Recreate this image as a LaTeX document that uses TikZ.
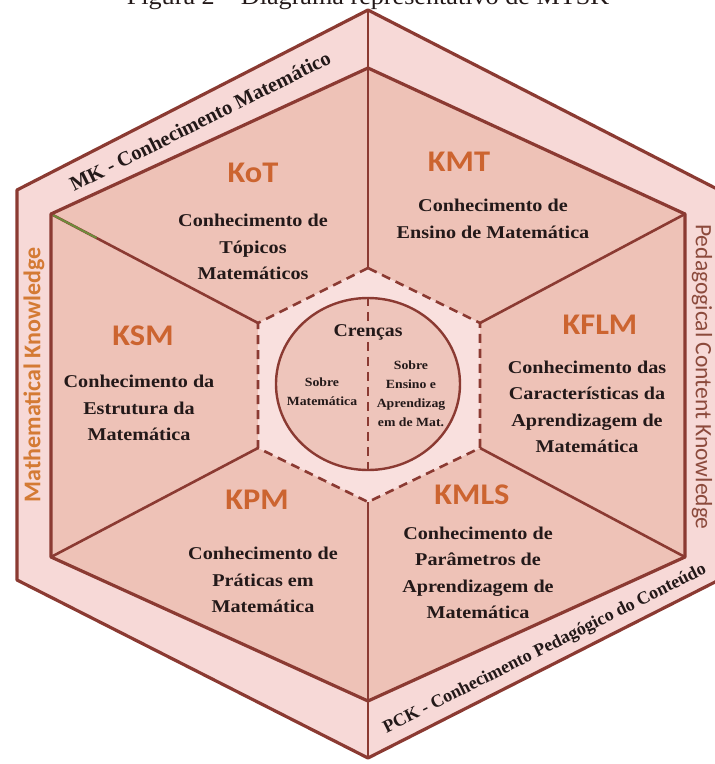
\documentclass[tikz,border=0pt]{standalone}
\usepackage{fontspec}
\setmainfont{Liberation Serif}
\newfontfamily\lblfont{Carlito}
\usetikzlibrary{calc,shapes.geometric}
\definecolor{edge}{RGB}{139,58,50}
\definecolor{sector}{RGB}{238,194,183}
\definecolor{band}{RGB}{247,217,215}
\definecolor{core}{RGB}{249,224,222}
\definecolor{circfill}{RGB}{238,197,187}
\definecolor{lbl}{RGB}{204,100,48}
\definecolor{mkcol}{RGB}{212,122,52}
\definecolor{pckcol}{RGB}{140,74,60}
\definecolor{txt}{RGB}{35,25,25}
\definecolor{artifact}{RGB}{110,140,60}
\begin{document}
\begin{tikzpicture}[x=1pt,y=-1pt,
  edgeline/.style={draw=edge,line width=3.2pt,line join=round},
  divline/.style={draw=edge,line width=2.6pt},
  dashline/.style={draw=edge,line width=2.6pt,dash pattern=on 9pt off 6pt},
  klabel/.style={font=\lblfont\bfseries\fontsize{30}{30}\selectfont,text=lbl,xscale=1.08,inner sep=0pt},
  ktext/.style={font=\bfseries\fontsize{18}{26.5}\selectfont,align=center,xscale=1.12,inner sep=0pt,text=txt},
  smalltext/.style={font=\bfseries\fontsize{12.5}{19}\selectfont,align=center,xscale=1.1,inner sep=0pt,text=txt},
  bandtext/.style={font=\bfseries\fontsize{18}{18}\selectfont,inner sep=0pt,text=txt,rotate=26.6},
]
\useasboundingbox (0,0) rectangle (715,764);
\fill[white] (0,0) rectangle (715,764);
% title (cut off by the page top)
\node[font=\fontsize{24}{24}\selectfont,anchor=base,xscale=1.09,inner sep=0pt,text=txt] (title) at (368,4) {Figura 2 -- Diagrama representativo de MTSK};
% outer hexagon
\coordinate (OT) at (368,10);
\coordinate (OUL) at (17,190);
\coordinate (OLL) at (17,580);
\coordinate (OB) at (368,758);
\coordinate (OLR) at (719,580);
\coordinate (OUR) at (719,190);
% inner hexagon
\coordinate (IT) at (368,68);
\coordinate (IUL) at (51,214);
\coordinate (ILL) at (51,557);
\coordinate (IB) at (368,701);
\coordinate (ILR) at (685,557);
\coordinate (IUR) at (685,214);
% central hexagon
\coordinate (CT) at (368,268);
\coordinate (CUL) at (258,323);
\coordinate (CLL) at (258,448);
\coordinate (CB) at (368,502);
\coordinate (CLR) at (480,448);
\coordinate (CUR) at (480,323);
\fill[band] (OT) -- (OUL) -- (OLL) -- (OB) -- (OLR) -- (OUR) -- cycle;
\fill[sector] (IT) -- (IUL) -- (ILL) -- (IB) -- (ILR) -- (IUR) -- cycle;
% dividers
\draw[divline] (IUL) -- (CUL);
\draw[divline] (ILL) -- (CLL);
\draw[divline] (IUR) -- (CUR);
\draw[divline] (ILR) -- (CLR);
\draw[artifact,line width=2pt] (IUL) -- ($(IUL)!0.22!(CUL)$);
\draw[divline] (OT) -- (CT);
\draw[divline] (OB) -- (CB);
% hexagon edges
\draw[edgeline] (OT) -- (OUL) -- (OLL) -- (OB) -- (OLR) -- (OUR) -- cycle;
\draw[edgeline] (IT) -- (IUL) -- (ILL) -- (IB) -- (ILR) -- (IUR) -- cycle;
% central hexagon
\fill[core] (CT) -- (CUL) -- (CLL) -- (CB) -- (CLR) -- (CUR) -- cycle;
\draw[dashline] (CT) -- (CUL) -- (CLL) -- (CB) -- (CLR) -- (CUR) -- cycle;
% beliefs circle
\node[ellipse,draw=edge,line width=2.4pt,fill=circfill,minimum width=184pt,minimum height=172pt,inner sep=0pt] (circ) at (368,384) {};
\draw[dashline] (circ.north) -- (circ.south);
\node[font=\bfseries\fontsize{18}{18}\selectfont,xscale=1.1,fill=circfill,inner sep=1.5pt,text=txt] (cren) at (368,332) {Crenças};
\node[smalltext] (sobremat) at (322,392) {Sobre\\Matemática};
\node[smalltext] (sobreens) at (411,394) {Sobre\\Ensino e\\Aprendizag\\em de Mat.};
% sector labels
\node[klabel] (kot) at (253,173) {KoT};
\node[ktext] (kottxt) at (253,247) {Conhecimento de\\Tópicos\\Matemáticos};
\node[klabel] (kmt) at (459,162) {KMT};
\node[ktext] (kmttxt) at (493,219) {Conhecimento de\\Ensino de Matemática};
\node[klabel] (ksm) at (143,336) {KSM};
\node[ktext] (ksmtxt) at (139,408) {Conhecimento da\\Estrutura da\\Matemática};
\node[klabel] (kflm) at (600,325) {KFLM};
\node[ktext] (kflmtxt) at (587,407) {Conhecimento das\\Características da\\Aprendizagem de\\Matemática};
\node[klabel] (kpm) at (257,500) {KPM};
\node[ktext] (kpmtxt) at (263,580) {Conhecimento de\\Práticas em\\Matemática};
\node[klabel] (kmls) at (472,495) {KMLS};
\node[ktext] (kmlstxt) at (478,573) {Conhecimento de\\Parâmetros de\\Aprendizagem de\\Matemática};
% band texts
\node[bandtext,font=\bfseries\fontsize{20.5}{20.5}\selectfont] (mk) at (200,121) {MK - Conhecimento Matemático};
\node[bandtext] (pck) at (545,649) {PCK - Conhecimento Pedagógico do Conteúdo};
\node[font=\lblfont\bfseries\fontsize{24}{24}\selectfont,text=mkcol,rotate=90,inner sep=0pt] (mathk) at (34,375) {Mathematical Knowledge};
\node[font=\lblfont\fontsize{23.5}{23.5}\selectfont,text=pckcol,rotate=-90,inner sep=0pt] (pedk) at (702,377) {Pedagogical Content Knowledge};
\end{tikzpicture}
\end{document}
